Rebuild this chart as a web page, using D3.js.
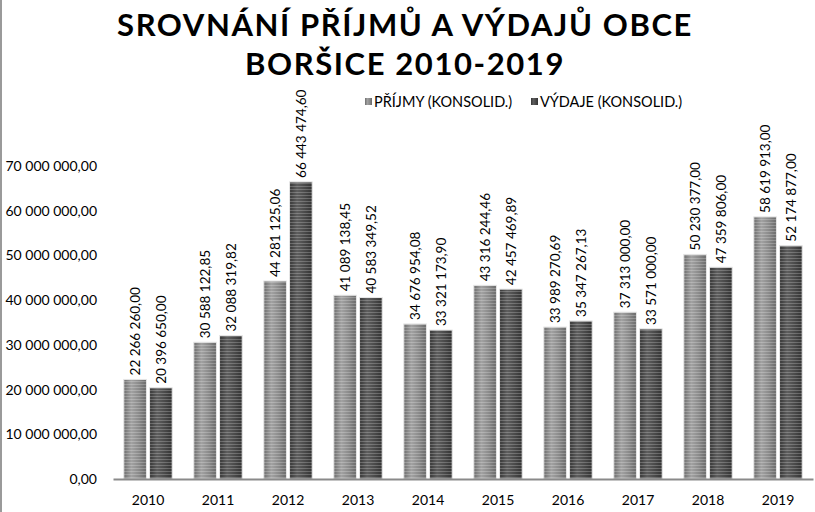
<!DOCTYPE html>
<html>
<head>
<meta charset="utf-8">
<script src="https://cdn.jsdelivr.net/npm/d3@7"></script>
<style>
  html, body { margin: 0; padding: 0; background: #fff; }
  svg { display: block; }
  text { font-family: Lato, "Open Sans", sans-serif; fill: #000; }
</style>
</head>
<body>
<svg id="chart" width="815" height="512"></svg>
<script>
const years = ["2010","2011","2012","2013","2014","2015","2016","2017","2018","2019"];
const seriesNames = ["PŘÍJMY (KONSOLID.)", "VÝDAJE (KONSOLID.)"];
const prijmy = [22266260.00, 30588122.85, 44281125.06, 41089138.45, 34676954.08, 43316244.46, 33989270.69, 37313000.00, 50230377.00, 58619913.00];
const vydaje = [20396650.00, 32088319.82, 66443474.60, 40583349.52, 33321173.90, 42457469.89, 35347267.13, 33571000.00, 47359806.00, 52174877.00];
const yTicks = [0, 10000000, 20000000, 30000000, 40000000, 50000000, 60000000, 70000000];
const titleLines = ["SROVNÁNÍ PŘÍJMŮ A VÝDAJŮ OBCE", "BORŠICE 2010-2019"];

const svg = d3.select("#chart");
const W = 815, H = 512;
const M = {left: 113, right: 2, top: 166, bottom: 33};
const plotW = W - M.left - M.right, plotH = H - M.top - M.bottom;

const loc = d3.formatLocale({decimal: ",", thousands: " ", grouping: [3], currency: ["", ""]});
const fmt = loc.format(",.2f");

const x0 = d3.scaleBand().domain(years).range([M.left, M.left + plotW]).paddingInner(0).paddingOuter(0);
const x1 = d3.scaleBand().domain([0, 1]).range([0, x0.bandwidth()]).paddingInner(0.12).paddingOuter(0.42);
const y = d3.scaleLinear().domain([0, 70000000]).range([M.top + plotH, M.top]);

// defs
const defs = svg.append("defs");
const grads = [
  ["g0", ["#6e6e6e", "#a2a2a2", "#8a8a8a", "#6a6a6a"]],
  ["g1", ["#363636", "#5e5e5e", "#4a4a4a", "#333333"]]
];
grads.forEach(([id, cols]) => {
  const g = defs.append("linearGradient").attr("id", id).attr("x1", "0").attr("x2", "1").attr("y1", "0").attr("y2", "0");
  cols.forEach((c, i) => g.append("stop").attr("offset", i / (cols.length - 1)).attr("stop-color", c));
});
const pat = defs.append("pattern").attr("id", "stripes").attr("patternUnits", "userSpaceOnUse")
  .attr("width", 10).attr("height", 3);
pat.append("rect").attr("width", 10).attr("height", 1).attr("fill", "rgba(255,255,255,0.22)");

// image border (left)
svg.append("line").attr("x1", 1).attr("x2", 1).attr("y1", 0).attr("y2", H).attr("stroke", "#9a9a9a").attr("stroke-width", 2);

// title
svg.append("g").selectAll("text").data(titleLines).join("text")
  .attr("x", 405).attr("y", (d, i) => 36 + i * 39)
  .attr("text-anchor", "middle")
  .style("font-size", "31px").style("font-weight", "bold").style("letter-spacing", "1.6px")
  .text(d => d);

// legend
const leg = svg.append("g").attr("transform", "translate(365,102)");
const legX = [0, 166];
seriesNames.forEach((n, i) => {
  leg.append("rect").attr("x", legX[i]).attr("y", -4).attr("width", 7).attr("height", 7)
    .attr("fill", `url(#g${i})`);
  leg.append("text").attr("x", legX[i] + 9).attr("y", 0).attr("dy", "0.35em")
    .style("font-size", "14.5px").text(n);
});

// y axis labels
const yAxis = d3.axisLeft(y).tickValues(yTicks).tickFormat(fmt).tickSize(0).tickPadding(0);
const ya = svg.append("g").attr("transform", `translate(97,0)`).call(yAxis);
ya.select(".domain").remove();
ya.selectAll("text").style("font-size", "14px").style("font-family", "Lato, sans-serif").attr("fill", "#000");

// bars
const data = years.map((yr, i) => ({yr, vals: [prijmy[i], vydaje[i]]}));
const groups = svg.append("g").selectAll("g").data(data).join("g")
  .attr("transform", d => `translate(${x0(d.yr)},0)`);
groups.selectAll("rect.bar").data(d => d.vals.map((v, k) => ({v, k}))).join("rect")
  .attr("class", "bar")
  .attr("x", d => x1(d.k)).attr("width", x1.bandwidth())
  .attr("y", d => y(d.v)).attr("height", d => y(0) - y(d.v))
  .attr("fill", d => `url(#g${d.k})`)
  .attr("stroke", "#e6e6e6").attr("stroke-width", 1);
groups.selectAll("rect.str").data(d => d.vals.map((v, k) => ({v, k}))).join("rect")
  .attr("class", "str")
  .attr("x", d => x1(d.k)).attr("width", x1.bandwidth())
  .attr("y", d => y(d.v)).attr("height", d => y(0) - y(d.v))
  .attr("fill", "url(#stripes)");
groups.selectAll("text.lbl").data(d => d.vals.map((v, k) => ({v, k}))).join("text")
  .attr("class", "lbl")
  .attr("transform", d => `translate(${x1(d.k) + x1.bandwidth() / 2},${y(d.v) - 4}) rotate(-90)`)
  .attr("dy", "0.35em")
  .style("font-size", "13.5px")
  .text(d => fmt(d.v));

// x axis
const xAxis = d3.axisBottom(x0).tickSize(0).tickPadding(16);
const xa = svg.append("g").attr("transform", `translate(0,${y(0)})`).call(xAxis);
xa.select(".domain").attr("stroke", "#8a8a8a").attr("stroke-width", 2);
xa.selectAll("text").style("font-size", "14px").style("font-family", "Lato, sans-serif").attr("fill", "#000");
</script>
</body>
</html>
